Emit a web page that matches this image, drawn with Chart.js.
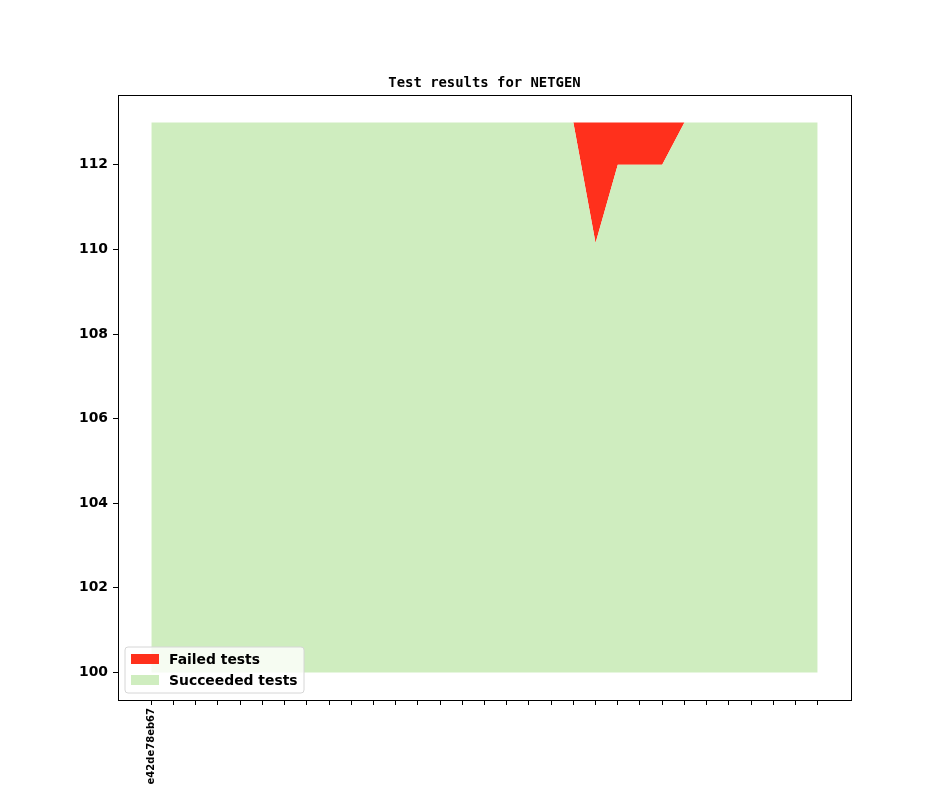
<!DOCTYPE html>
<html>
<head>
<meta charset="utf-8">
<script src="https://cdn.jsdelivr.net/npm/chart.js@4/dist/chart.umd.min.js"></script>
<style>
html,body{margin:0;padding:0;background:#fff;}
#wrap{width:944px;height:787px;position:relative;}
</style>
</head>
<body>
<div id="wrap"><canvas id="c"></canvas></div>
<script>
const chartTitle = 'Test results for NETGEN';
const commits = ['e42de78eb67','','','','','','','','','','','','','','','','','','','','','','','','','','','','','',''];
const succeeded = [113,113,113,113,113,113,113,113,113,113,113,113,113,113,113,113,113,113,113,113,110.15,112,112,112,113,113,113,113,113,113,113];
const failed = [0,0,0,0,0,0,0,0,0,0,0,0,0,0,0,0,0,0,0,0,2.85,1,1,1,0,0,0,0,0,0,0];
const yTicks = [100,102,104,106,108,110,112];
const seriesLabels = ['Failed tests','Succeeded tests'];
const colors = {failed:'rgb(255,48,28)', succeeded:'rgb(207,237,191)'};
const yBase = 100;

const idx = commits.map((_, i) => i);
const succPts = idx.map(i => ({x:i, y:succeeded[i]}));
const totalPts = idx.map(i => ({x:i, y:succeeded[i] + failed[i]}));

const FONT = 'DejaVu Sans';

const decor = {
  id:'decor',
  afterDraw(chart){
    const ctx = chart.ctx, a = chart.chartArea;
    ctx.save();
    ctx.strokeStyle = '#000'; ctx.lineWidth = 1;
    ctx.strokeRect(Math.round(a.left)+0.5, Math.round(a.top)+0.5, Math.round(a.right-a.left), Math.round(a.bottom-a.top));
    ctx.fillStyle = '#000';
    ctx.font = 'bold 13.9px "DejaVu Sans Mono"';
    ctx.textAlign = 'center'; ctx.textBaseline = 'alphabetic';
    ctx.fillText(chartTitle, (a.left + a.right)/2, a.top - 8);
    const lx = a.left + 7, ly = a.bottom - 53, lw = 179, lh = 46, r = 3;
    ctx.beginPath();
    ctx.moveTo(lx+r, ly); ctx.lineTo(lx+lw-r, ly); ctx.arcTo(lx+lw, ly, lx+lw, ly+r, r);
    ctx.lineTo(lx+lw, ly+lh-r); ctx.arcTo(lx+lw, ly+lh, lx+lw-r, ly+lh, r);
    ctx.lineTo(lx+r, ly+lh); ctx.arcTo(lx, ly+lh, lx, ly+lh-r, r);
    ctx.lineTo(lx, ly+r); ctx.arcTo(lx, ly, lx+r, ly, r);
    ctx.closePath();
    ctx.fillStyle = 'rgba(255,255,255,0.8)'; ctx.fill();
    ctx.strokeStyle = '#d6d6d6'; ctx.stroke();
    const items = [[seriesLabels[0], colors.failed],[seriesLabels[1], colors.succeeded]];
    ctx.font = 'bold 13.9px "' + FONT + '"';
    ctx.textAlign = 'left'; ctx.textBaseline = 'middle';
    items.forEach((it, k) => {
      const cy = ly + 12 + k*21;
      ctx.fillStyle = it[1];
      ctx.fillRect(lx + 6, cy - 5, 28, 10);
      ctx.fillStyle = '#000';
      ctx.fillText(it[0], lx + 44, cy + 1);
    });
    ctx.restore();
  }
};

new Chart(document.getElementById('c'), {
  type:'line',
  data:{
    datasets:[
      {label:seriesLabels[1], data:succPts, backgroundColor:colors.succeeded, borderWidth:0, pointRadius:0, tension:0, fill:{value:yBase}},
      {label:seriesLabels[0], data:totalPts, backgroundColor:colors.failed, borderWidth:0, pointRadius:0, tension:0, fill:'-1'}
    ]
  },
  options:{
    responsive:true, maintainAspectRatio:false, animation:false,
    layout:{padding:{top:95, right:93, left:0, bottom:0}},
    plugins:{legend:{display:false}, title:{display:false}, tooltip:{enabled:false}},
    scales:{
      x:{
        type:'linear', min:-1.5, max:commits.length - 1 + 1.5,
        afterBuildTicks(s){ s.ticks = idx.map(i => ({value:i})); },
        afterFit(s){ s.height = 87; },
        grid:{drawOnChartArea:false, drawTicks:true, tickLength:5, color:'#000'},
        border:{display:false},
        ticks:{autoSkip:false, maxRotation:90, minRotation:90, padding:3, color:'#000',
          font:{family:FONT, weight:'bold', size:10},
          callback(v){ return commits[v] !== undefined ? commits[v] : ''; }}
      },
      y:{
        min:99.35, max:113.65,
        afterBuildTicks(s){ s.ticks = yTicks.map(v => ({value:v})); },
        afterFit(s){ s.width = 118; },
        grid:{drawOnChartArea:false, drawTicks:true, tickLength:5, color:'#000'},
        border:{display:false},
        ticks:{padding:5, color:'#000', font:{family:FONT, weight:'bold', size:13.9},
          callback(v){ return String(v); }}
      }
    }
  },
  plugins:[decor]
});
</script>
</body>
</html>
